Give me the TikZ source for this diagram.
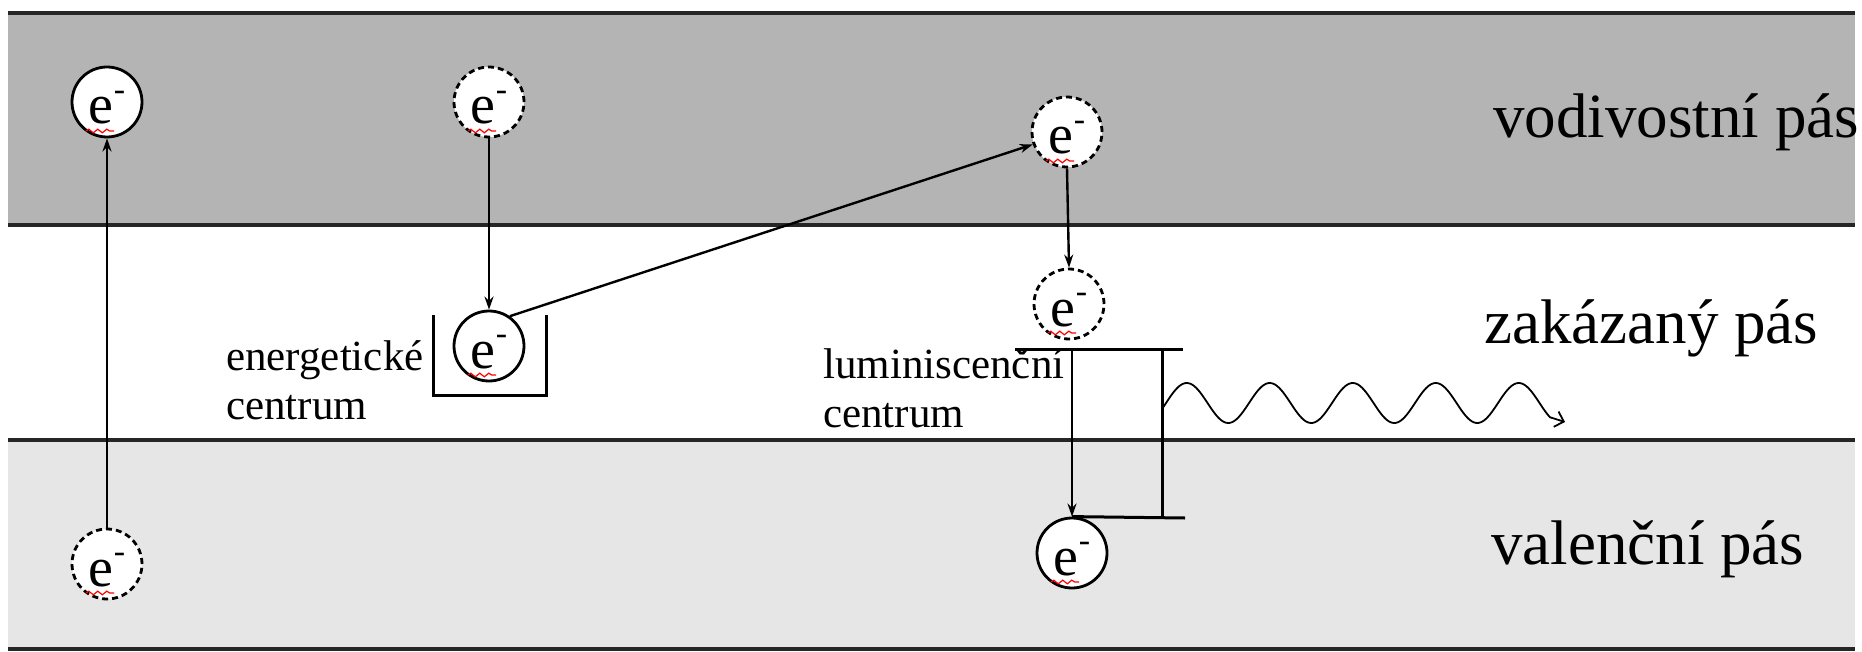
\documentclass[tikz,border=0pt]{standalone}
\usepackage{fontspec}
\setmainfont{Liberation Serif}
\usetikzlibrary{arrows.meta,decorations.pathmorphing}
\definecolor{cband}{HTML}{B4B4B4}
\definecolor{vband}{HTML}{E6E6E6}
\tikzset{
  bandline/.style={line width=3.5pt, black!85},
  elec/.style={circle, draw=black, line width=2.8pt, fill=white, minimum size=70pt, inner sep=0pt, font=\fontsize{56}{56}\selectfont},
  elecd/.style={elec, dash pattern=on 6pt off 4pt},
  conn/.style={line width=2.4pt, -{Stealth[length=13pt,width=9pt]}},
  frame/.style={line width=3pt},
  squig/.style={red, line width=1.2pt, decorate, decoration={snake, amplitude=1.8pt, segment length=9pt}},
  bandlabel/.style={anchor=base west, inner sep=0pt, font=\fontsize{63}{70}\selectfont},
  smalllabel/.style={anchor=base west, inner sep=0pt, font=\fontsize{43}{50}\selectfont},
}
\newcommand{\elabel}{\raisebox{0pt}[44pt][0pt]{e\raisebox{0.42em}{\fontsize{34}{34}\selectfont -}}}
\begin{document}
\begin{tikzpicture}[x=1pt,y=-1pt]
\useasboundingbox (0,0) rectangle (1862,652);
% bands
\fill[cband] (8,13) rectangle (1855,225);
\fill[vband] (8,440) rectangle (1855,649);
\draw[bandline] (8,13) -- (1855,13);
\draw[bandline] (8,225) -- (1855,225);
\draw[bandline] (8,440) -- (1855,440);
\draw[bandline] (8,649) -- (1855,649);
% band labels
\node[bandlabel] (lcond) at (1493,138) {vodivostní pás};
\node[bandlabel] (lgap) at (1484,343) {zakázaný pás};
\node[bandlabel] (lval) at (1491,564) {valenční pás};
% energetic centre well
\coordinate (w1) at (433,315);
\coordinate (w2) at (433,395);
\coordinate (w3) at (546,395);
\coordinate (w4) at (546,315);
\draw[frame] (w1) -- (w2) -- (w3) -- (w4);
% luminescence centre levels
\coordinate (lt1) at (1015,349);
\coordinate (lt2) at (1183,349);
\coordinate (rv) at (1162,349);
\coordinate (lb2) at (1185,518);
\draw[frame] (lt1) -- (lt2);
% electrons
\node[elec]  (e1) at (107,102) {\elabel};
\node[elecd] (e2) at (489,102) {\elabel};
\node[elecd] (e3) at (1067,132) {\elabel};
\node[elec]  (e4) at (489,346) {\elabel};
\node[elecd] (e5) at (1069,304) {\elabel};
\node[elec]  (e6) at (1072,553) {\elabel};
\node[elecd] (e7) at (107,564) {\elabel};
\foreach \n in {e1,e2,e3,e4,e5,e6,e7}
  \draw[squig] ([shift={(-21,29)}]\n.center) -- ++(28,0);
% level frame of luminescence centre
\draw[frame] (e6.north) -- (lb2);
\draw[frame] (rv) -- (rv |- e6.north);
% small labels
\node[smalllabel] (en1) at (226,370) {energetické};
\node[smalllabel] (en2) at (226,419) {centrum};
\node[smalllabel] (lu1) at (823,378) {luminiscenční};
\node[smalllabel] (lu2) at (823,427) {centrum};
% transitions
\draw[conn] (e7.north) -- (e1.south);
\draw[conn] (e2.south) -- (e4.north);
\draw[conn] (e4.55) -- (e3.200);
\draw[conn] (e3.south) -- (e5.north);
\draw[conn] (e6.north |- lt1) -- (e6.north);
% emitted light
\coordinate (ws) at (1162,392);
\coordinate (we) at (1565,422);
\draw[line width=1.8pt, -{Straight Barb[length=8pt,width=16pt]}]
  (ws) plot[domain=1162:1550, samples=220, smooth] (\x, {403 - 20*sin((\x-1166)/83*360)}) -- (we);
\end{tikzpicture}
\end{document}
